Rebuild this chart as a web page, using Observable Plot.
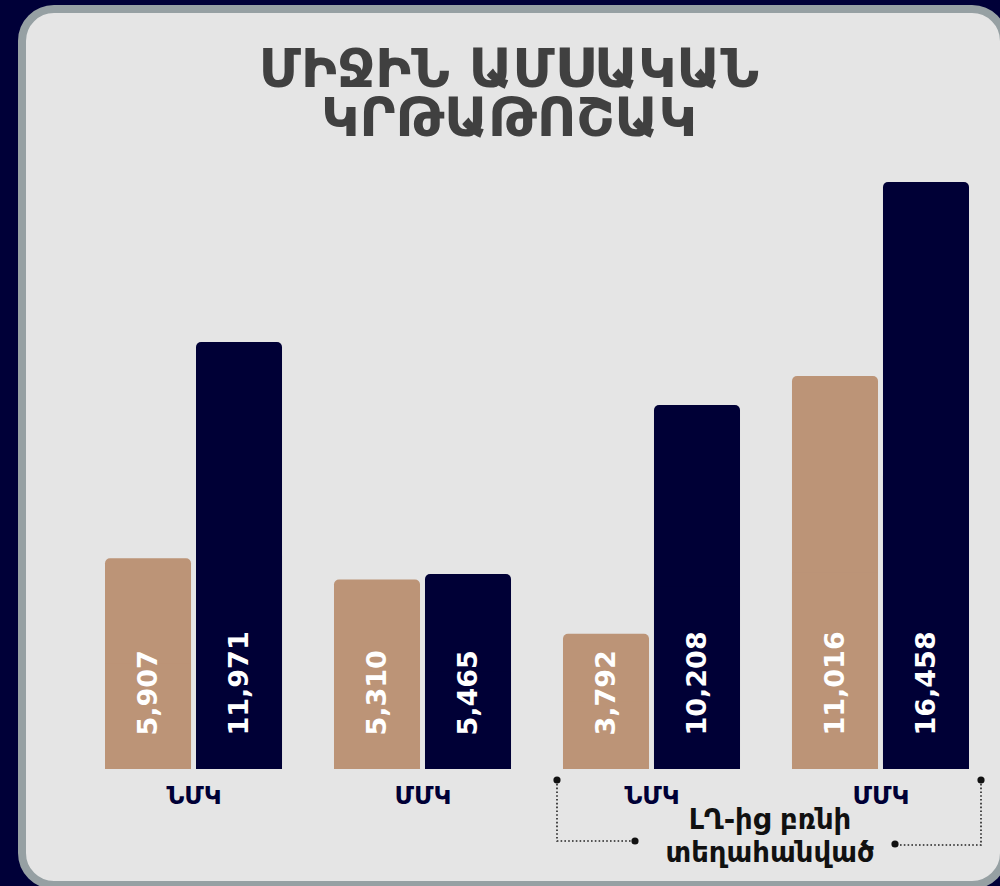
<!DOCTYPE html>
<html><head><meta charset="utf-8">
<script src="https://cdn.jsdelivr.net/npm/d3@7"></script>
<script src="https://cdn.jsdelivr.net/npm/@observablehq/plot@0.6"></script>
<style>
html,body{margin:0;padding:0;width:1000px;height:886px;overflow:hidden;background:#000038;}
#panel{position:absolute;left:18px;top:5px;width:990px;height:884px;box-sizing:border-box;border:8px solid #96a0a3;border-radius:36px;background:#e5e5e5;}
.title{position:absolute;left:18px;width:982px;height:49px;text-align:center;font-family:"DejaVu Sans",sans-serif;font-weight:bold;font-size:54px;color:#404040;line-height:49px;}
#chart{position:absolute;left:0;top:160px;}
</style>
</head><body>
<div id="panel"></div>
<div class="title" style="top:44px">ՄԻՋԻՆ ԱՄՍԱԿԱՆ</div>
<div class="title" style="top:93px">ԿՐԹԱԹՈՇԱԿ</div>
<div id="chart"></div>
<script>
const groups = ["g1", "g2", "g3", "g4"];
const groupLabels = ["ՆՄԿ", "ՄՄԿ", "ՆՄԿ", "ՄՄԿ"];
const seriesA = [5907, 5310, 3792, 11016];
const seriesB = [11971, 5465, 10208, 16458];
const noteLines = ["ԼՂ-ից բռնի", "տեղահանված"];

const tan = "#bc9477", navy = "#000036";
const fmt = d3.format(",");
const dataA = groups.map((g, i) => ({g, v: seriesA[i]}));
const dataB = groups.map((g, i) => ({g, v: seriesB[i]}));
const labelOf = Object.fromEntries(groups.map((g, i) => [g, groupLabels[i]]));

const plot = Plot.plot({
  width: 1000,
  height: 729,
  marginLeft: 105,
  marginRight: 31,
  marginTop: 22,
  marginBottom: 120,
  style: {background: "transparent", overflow: "visible"},
  x: {domain: groups, paddingInner: 0.227, paddingOuter: 0, round: false, axis: null},
  y: {domain: [0, d3.max(seriesB)], axis: null},
  marks: [
    Plot.barY(dataA, {x: "g", y: "v", fill: tan, insetRight: 91, rx: 5}),
    Plot.barY(dataA, {x: "g", y1: 0, y2: d => d.v / 2, fill: tan, insetRight: 91}),
    Plot.barY(dataB, {x: "g", y: "v", fill: navy, insetLeft: 91, rx: 5}),
    Plot.barY(dataB, {x: "g", y1: 0, y2: d => d.v / 2, fill: navy, insetLeft: 91}),
    Plot.text(dataA, {x: "g", y: 0, text: d => fmt(d.v), rotate: -90, textAnchor: "start", lineAnchor: "middle", dx: -45.5, dy: -34, fill: "white", fontSize: 27, fontWeight: "bold", fontFamily: "DejaVu Sans"}),
    Plot.text(dataB, {x: "g", y: 0, text: d => fmt(d.v), rotate: -90, textAnchor: "start", lineAnchor: "middle", dx: 45.5, dy: -34, fill: "white", fontSize: 27, fontWeight: "bold", fontFamily: "DejaVu Sans"}),
    Plot.axisX({tickSize: 0, tickPadding: 17, tickFormat: g => labelOf[g], fontSize: 25, fontWeight: "bold", fill: navy, color: navy, fontFamily: "DejaVu Sans", label: null})
  ]
});
document.getElementById("chart").appendChild(plot);

// bracket annotation under the displaced groups, positioned from the plot's scales
const xs = plot.scale("x"), ys = plot.scale("y");
const bw = xs.bandwidth;
const base = ys.apply(0);
const left = xs.apply("g3") - 6;
const right = xs.apply("g4") + bw + 12;
const mid = (xs.apply("g3") + xs.apply("g4") + bw) / 2;
const svg = d3.select(plot);
const g = svg.append("g").attr("stroke", "#222").attr("fill", "none");
g.append("path").attr("d", `M${left},${base + 11}V${base + 72}H${left + 78}`).attr("stroke-width", 1.6).attr("stroke-dasharray", "1.6,2.2");
g.append("path").attr("d", `M${right},${base + 11}V${base + 76}H${right - 86}`).attr("stroke-width", 1.6).attr("stroke-dasharray", "1.6,2.2");
const dots = [[left, base + 11], [left + 78, base + 72], [right, base + 11], [right - 86, base + 75]];
svg.append("g").selectAll("circle").data(dots).join("circle").attr("cx", d => d[0]).attr("cy", d => d[1]).attr("r", 3.6).attr("fill", "#111");
svg.append("g").selectAll("text").data(noteLines).join("text")
  .attr("x", mid + 4).attr("y", (d, i) => base + 60 + i * 33)
  .attr("text-anchor", "middle").attr("font-family", "DejaVu Sans").attr("font-weight", "bold").attr("font-size", 27.5).attr("fill", "#111")
  .text(d => d);
</script>
</body></html>
